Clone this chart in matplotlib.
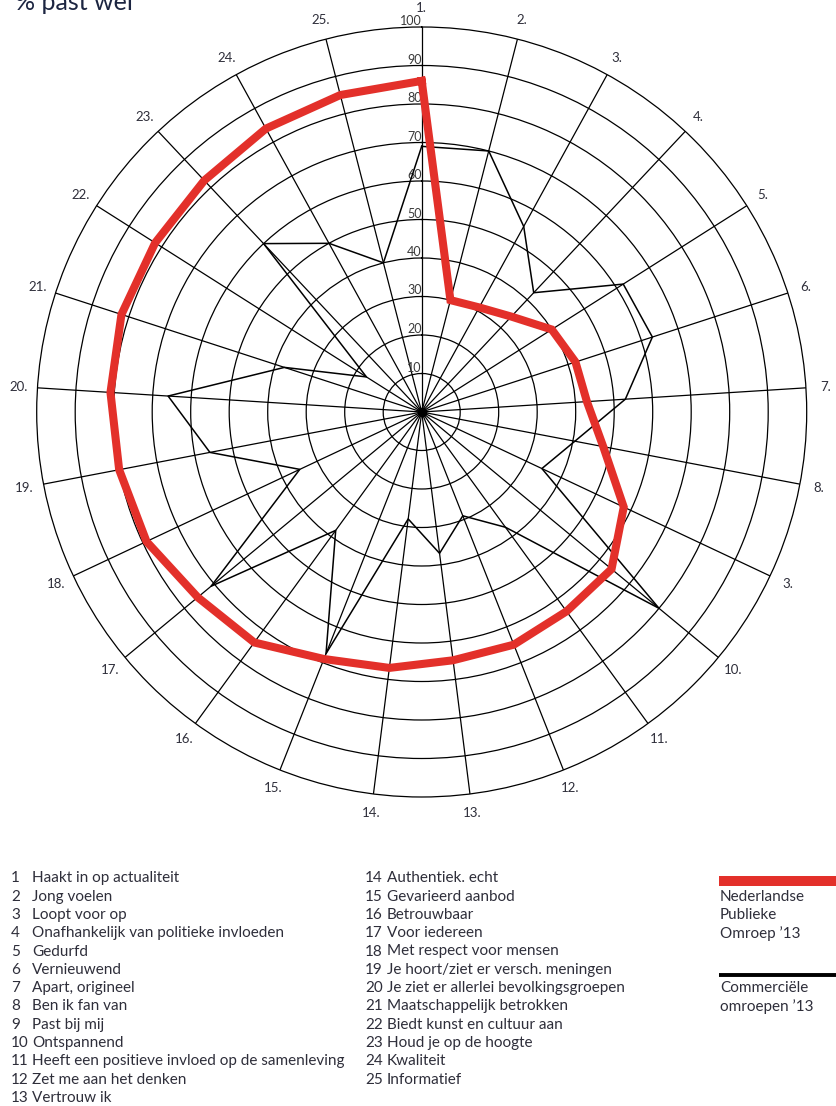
import numpy as np
import matplotlib
matplotlib.use("Agg")
import matplotlib.pyplot as plt

# ---------------- data ----------------
spoke_labels = ["1.", "2.", "3.", "4.", "5.", "6.", "7.", "8.", "3.", "10.",
                "11.", "12.", "13.", "14.", "15.", "16.", "17.", "18.", "19.", "20.",
                "21.", "22.", "23.", "24.", "25."]
npo_values = [86, 30, 31, 34, 40, 42, 43, 48, 58, 64, 64, 65, 65, 67, 69, 74,
              75.5, 79, 80, 81, 82, 82, 82.5, 84, 85]
commercial_values = [69, 70, 55, 42.5, 62, 63, 53, 40.5, 34.5, 80, 37, 29, 37,
                     28, 67.5, 38, 71, 35, 56, 66, 37.5, 17, 60, 50, 40]
radial_ticks = [10, 20, 30, 40, 50, 60, 70, 80, 90, 100]
items_left = ["Haakt in op actualiteit", "Jong voelen", "Loopt voor op",
              "Onafhankelijk van politieke invloeden", "Gedurfd", "Vernieuwend",
              "Apart, origineel", "Ben ik fan van", "Past bij mij", "Ontspannend",
              "Heeft een positieve invloed op de samenleving",
              "Zet me aan het denken", "Vertrouw ik"]
items_right = ["Authentiek. echt", "Gevarieerd aanbod", "Betrouwbaar",
               "Voor iedereen", "Met respect voor mensen",
               "Je hoort/ziet er versch. meningen",
               "Je ziet er allerlei bevolkingsgroepen", "Maatschappelijk betrokken",
               "Biedt kunst en cultuur aan", "Houd je op de hoogte", "Kwaliteit",
               "Informatief"]
series_names = ["Nederlandse\nPublieke\nOmroep \u201913", "Commerci\u00eble\nomroepen \u201913"]
title = "% past wel"

# ---------------- style ----------------
RED = "#e3302a"
TXT = "#2e2e3a"
FONT = "Lato"
W, H = 837, 1106
plt.rcParams["font.family"] = [FONT, "DejaVu Sans"]

fig = plt.figure(figsize=(W / 100, H / 100), dpi=100)

def fx(px):
    return px / W

def fy(py):
    return 1 - py / H

cx, cy, R = 421.7, 412, 385
ax = fig.add_axes([fx(cx - R), fy(cy + R), 2 * R / W, 2 * R / H], projection="polar")
ax.set_theta_zero_location("N")
ax.set_theta_direction(-1)
ax.set_ylim(0, 100)

n = len(npo_values)
angles = np.deg2rad(np.arange(n) * 360.0 / n)
ax.set_xticks(angles)
ax.set_xticklabels([])
ax.set_yticks(radial_ticks[:-1])
ax.set_yticklabels([])
ax.grid(True, color="black", lw=0.9)
ax.spines["polar"].set_color("black")
ax.spines["polar"].set_linewidth(0.9)

# spoke labels
for a, lab in zip(angles, spoke_labels):
    ax.text(a, 105, lab, ha="center", va="center", fontsize=9.5, color=TXT,
            clip_on=False)

# radial labels along spoke 1
for v in radial_ticks:
    ax.text(0, v, str(v), ha="right", va="bottom", fontsize=9, color="#3a3a3a",
            clip_on=False)

ang_c = np.append(angles, angles[0])
ax.plot(ang_c, np.append(commercial_values, commercial_values[0]), color="black",
        lw=1.1, zorder=4)
ax.plot(ang_c, np.append(npo_values, npo_values[0]), color=RED, lw=5.8,
        zorder=5, solid_joinstyle="miter")
ax.plot([0], [0], "o", color="black", ms=6, zorder=6)

# title (partially cut at top, as in the source)
fig.text(fx(15), fy(10), title, ha="left", va="baseline", fontsize=18,
         color="#1c2541")

# legend lists
FS = 11
row0, dy = 878.3, 18.3
for i, t in enumerate(items_left):
    y = fy(row0 + i * dy)
    fig.text(fx(11), y, str(i + 1), ha="left", va="center", fontsize=FS, color=TXT)
    fig.text(fx(32), y, t, ha="left", va="center", fontsize=FS, color=TXT)
for i, t in enumerate(items_right):
    y = fy(row0 + i * dy)
    fig.text(fx(365), y, str(i + 14), ha="left", va="center", fontsize=FS, color=TXT)
    fig.text(fx(387), y, t, ha="left", va="center", fontsize=FS, color=TXT)

# series legend
fig.add_artist(plt.Line2D([fx(719), fx(836)], [fy(881), fy(881)], color=RED,
                          lw=7.2, solid_capstyle="butt"))
fig.add_artist(plt.Line2D([fx(719), fx(836)], [fy(974.5), fy(974.5)], color="black",
                          lw=2.8, solid_capstyle="butt"))
for j, line in enumerate(series_names[0].split("\n")):
    fig.text(fx(720), fy(896.7 + j * 18.3), line, ha="left", va="center",
             fontsize=FS, color=TXT)
for j, line in enumerate(series_names[1].split("\n")):
    fig.text(fx(720), fy(988.5 + j * 18.3), line, ha="left", va="center",
             fontsize=FS, color=TXT)

fig.savefig("out.png", dpi=100)
